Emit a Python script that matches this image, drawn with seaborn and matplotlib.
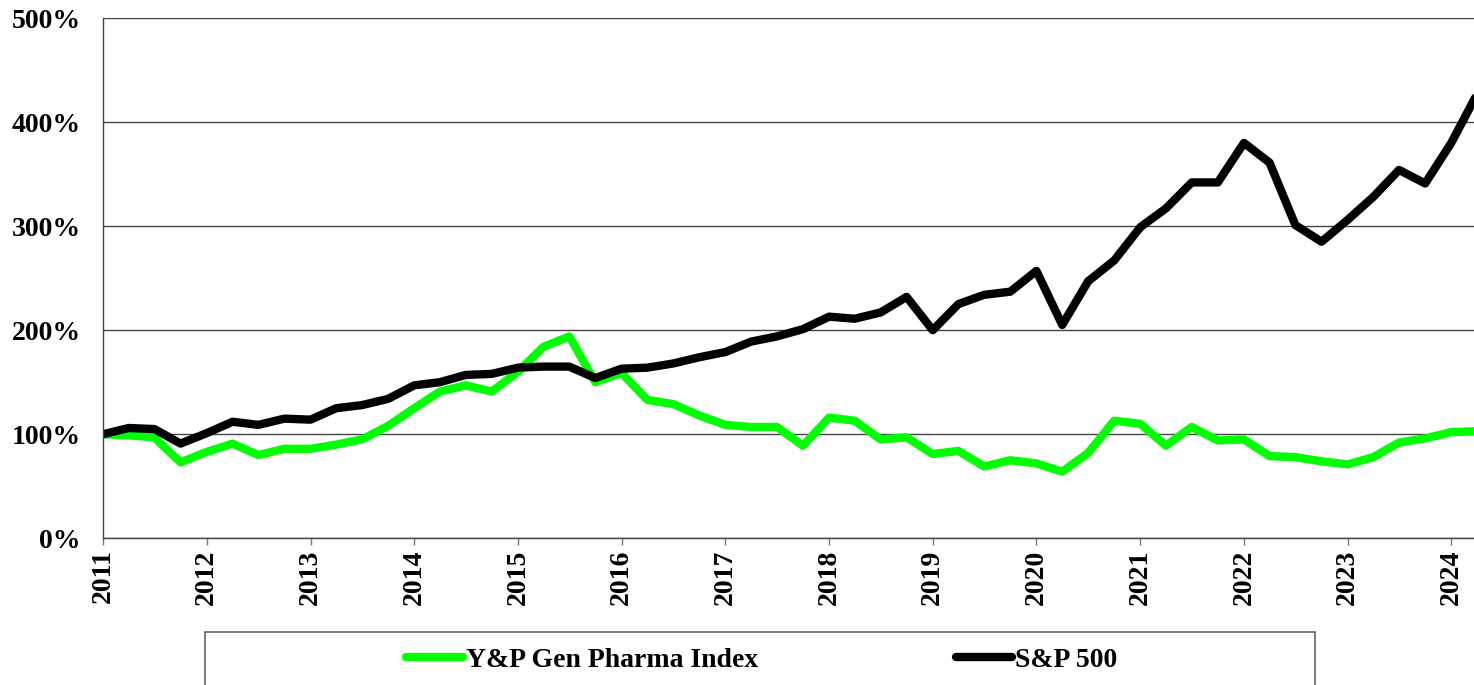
import pandas as pd
import seaborn as sns
import matplotlib.pyplot as plt
import matplotlib.dates as mdates
from matplotlib.patches import Rectangle
from matplotlib.ticker import FuncFormatter

quarters = pd.date_range("2011-01-01", periods=54, freq="QS")

pharma = [100, 99, 97, 73,
          83, 91, 80, 86,
          86, 90, 95, 108,
          125, 141, 147, 141,
          160, 184, 194, 150,
          159, 133, 129, 118,
          109, 107, 107, 89,
          116, 113, 95, 97,
          81, 84, 69, 75,
          72, 64, 82, 113,
          110, 89, 107, 94,
          95, 79, 78, 74,
          71, 78, 92, 96,
          102, 103]

sp500 = [100, 106, 105, 91,
         101, 112, 109, 115,
         114, 125, 128, 134,
         147, 150, 157, 158,
         164, 165, 165, 154,
         163, 164, 168, 174,
         179, 189, 194, 201,
         213, 211, 217, 232,
         200, 225, 234, 237,
         257, 205, 247, 267,
         299, 317, 342, 342,
         380, 361, 301, 285,
         306, 328, 354, 341,
         380, 427]

series_names = ["Y&P Gen Pharma Index", "S&P 500"]
y_ticks = [0, 100, 200, 300, 400, 500]

df = pd.DataFrame({
    "date": list(quarters) * 2,
    "value": pharma + sp500,
    "series": [series_names[0]] * len(pharma) + [series_names[1]] * len(sp500),
})

sns.set_theme(style="white")
plt.rcParams["font.family"] = ["Liberation Serif", "DejaVu Serif"]
plt.rcParams["font.weight"] = "bold"
plt.rcParams["text.color"] = "black"
plt.rcParams["xtick.color"] = "black"
plt.rcParams["ytick.color"] = "black"

fig = plt.figure(figsize=(14.74, 6.85), dpi=100)
ax = fig.add_axes([103 / 1474, 1 - 538.3 / 685, 1 - 103 / 1474, (538.3 - 18) / 685])

sns.lineplot(data=df, x="date", y="value", hue="series", hue_order=series_names,
             palette=["#00ff00", "#000000"], linewidth=6, ax=ax, legend=True)
for line in ax.lines:
    line.set_solid_joinstyle("round")
    line.set_solid_capstyle("round")

handles, labels = ax.get_legend_handles_labels()
ax.get_legend().remove()
for h in handles:
    h.set_linewidth(6)
    h.set_solid_capstyle("round")

ax.set_ylim(0, 500)
ax.set_yticks(y_ticks)
ax.yaxis.set_major_formatter(FuncFormatter(lambda v, p: f"{int(v)}%"))
ax.set_xlim(pd.Timestamp("2011-01-01"), pd.Timestamp("2024-03-21"))
ax.xaxis.set_major_locator(mdates.YearLocator())
ax.xaxis.set_major_formatter(mdates.DateFormatter("%Y"))
ax.set_xlabel("")
ax.set_ylabel("")

ax.grid(axis="y", color="#444444", linewidth=1.0)
ax.grid(axis="x", visible=False)
ax.set_axisbelow(True)
for side in ["top", "right"]:
    ax.spines[side].set_visible(False)
for side in ["left", "bottom"]:
    ax.spines[side].set_color("#444444")
    ax.spines[side].set_linewidth(1.0)

ax.tick_params(axis="x", which="major", direction="out", length=5, width=1,
               color="#777777", labelcolor="black", labelsize=20, labelrotation=90,
               pad=3, bottom=True)
ax.tick_params(axis="y", length=0, labelsize=20, labelcolor="black", pad=16)
for lbl in ax.get_xticklabels() + ax.get_yticklabels():
    lbl.set_fontweight("bold")

fig.patches.append(Rectangle((205 / 1474, -0.05), 1110 / 1474, (685 * 0.05 + 685 - 632) / 685,
                             transform=fig.transFigure, fill=False,
                             edgecolor="#666666", linewidth=1.2))
leg = fig.legend(handles, labels, loc="center", bbox_to_anchor=(762 / 1474, 1 - 660 / 685),
                 ncol=2, frameon=False, handlelength=2.05, handletextpad=0.1,
                 columnspacing=7.1, prop={"size": 20, "weight": "bold"})
for t in leg.get_texts():
    t.set_color("black")

fig.savefig("out.png", dpi=100)
